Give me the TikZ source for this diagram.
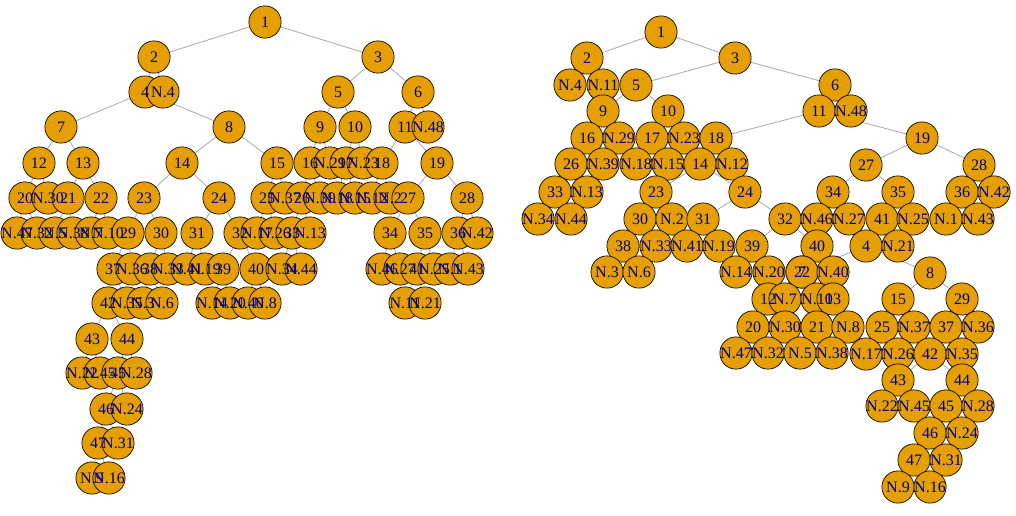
\documentclass[tikz,border=0pt]{standalone}
\usepackage{fontspec}
\setmainfont{Liberation Serif}
\usepackage{xcolor}
\definecolor{vtxorange}{HTML}{E69F00}
\definecolor{lbldarkblue}{HTML}{00008B}
\definecolor{edgegrey}{HTML}{A9A9A9}
\pgfdeclarelayer{edges}
\pgfdeclarelayer{labels}
\pgfsetlayers{edges,main,labels}

\begin{document}
\begin{tikzpicture}[x=0.75pt,y=-0.75pt,
  vtx/.style={circle,draw=black,line width=0.5pt,fill=vtxorange,minimum size=24.2pt,inner sep=0pt},
  lbl/.style={text=lbldarkblue,font=\fontsize{12}{12}\selectfont,inner sep=0pt},
  edge/.style={draw=edgegrey,line width=0.6pt}]
\useasboundingbox (0,0) rectangle (1016,515);
% left tree
\foreach \n/\x/\y/\t in {1/265/22/1, 2/154/57/2, 3/378/57/3,
  4/145/92/4, N4/163/92/N.4, 5/338/92/5, 6/418/92/6,
  7/61/127/7, 8/229/127/8, 9/320/127/9, 10/355/127/10, 11/405/127/11, N48/428/127/N.48,
  12/39/163/12, 13/83/163/13, 14/182/163/14, 15/277/163/15, 16/310/163/16, N29/330/163/N.29,
  17/346/163/17, N23/363/163/N.23, 18/382/163/18, 19/437/163/19,
  20/25/198/20, N30/48/198/N.30, 21/68/198/21, 22/101/198/22, 23/144/198/23, 24/219/198/24,
  25/267/198/25, N37/285/198/N.37, 26/302/198/26, N39/320/198/N.39, N18/337/198/N.18,
  N15/355/198/N.15, N12/372/198/N.12, N2/390/198/N.2, 27/408/198/27, 28/467/198/28,
  N47/17/233/N.47, N32/37/233/N.32, N5/55/233/N.5, N38/73/233/N.38, N7/91/233/N.7,
  N10/108/233/N.10, 29/128/233/29, 30/161/233/30, 31/197/233/31, 32/240/233/32,
  N17/257/233/N.17, N26/275/233/N.26, 33/292/233/33, N13/310/233/N.13, 34/390/233/34,
  35/425/233/35, 36/458/233/36, N42/477/233/N.42,
  37/113/269/37, N36/132/269/N.36, 38/150/269/38, N33/168/269/N.33, N41/187/269/N.41,
  N19/205/269/N.19, 39/223/269/39, 40/256/269/40, N34/282/269/N.34, N44/301/269/N.44,
  N46/382/269/N.46, N27/400/269/N.27, 41/417/269/41, N25/434/269/N.25, N1/450/269/N.1,
  N43/468/269/N.43,
  42/108/303/42, N35/127/303/N.35, N3/143/303/N.3, N6/162/303/N.6, N14/212/303/N.14,
  N20/230/303/N.20, N40/248/303/N.40, N8/265/303/N.8, N11/405/303/N.11, N21/425/303/N.21,
  43/92/339/43, 44/127/339/44,
  N22/82/373/N.22, N45/100/373/N.45, 45/118/373/45, N28/136/373/N.28,
  46/106/409/46, N24/127/409/N.24,
  47/98/443/47, N31/118/443/N.31,
  N9/92/478/N.9, N16/109/478/N.16}{
  \node[vtx] (L\n) at (\x,\y) {};
  \begin{pgfonlayer}{labels}
    \node[lbl] (L\n-t) at (\x,\y) {\t};
  \end{pgfonlayer}
}
% right tree
\foreach \n/\x/\y/\t in {1/661/32/1, 2/587/58/2, 3/735/58/3,
  N4/570/85/N.4, N11/603/85/N.11, 5/636/85/5, 6/835/85/6,
  9/603/111/9, 10/668/111/10, 11/819/111/11, N48/851/111/N.48,
  16/587/138/16, N29/619/138/N.29, 17/652/138/17, N23/684/138/N.23, 18/716/138/18, 19/922/138/19,
  26/571/164/26, N39/603/164/N.39, N18/636/164/N.18, N15/668/164/N.15, 14/700/164/14,
  N12/732/164/N.12, 27/866/165/27, 28/979/165/28,
  33/555/192/33, N13/587/192/N.13, 23/656/192/23, 24/745/192/24, 34/833/192/34,
  35/898/192/35, 36/962/192/36, N42/994/192/N.42,
  N34/538/219/N.34, N44/571/219/N.44, 30/640/219/30, N2/672/219/N.2, 31/703/219/31,
  32/785/219/32, N46/817/219/N.46, N27/849/219/N.27, 41/882/219/41, N25/913/219/N.25,
  N1/946/219/N.1, N43/978/219/N.43,
  38/623/246/38, N33/656/246/N.33, N41/687/246/N.41, N19/719/246/N.19, 39/752/246/39,
  40/817/246/40, 4/866/246/4, N21/898/246/N.21,
  N3/607/272/N.3, N6/639/272/N.6, N14/736/272/N.14, N20/769/272/N.20, 7/802/272/7,
  22/802/272/22, N40/833/272/N.40, 8/930/273/8,
  12/768/299/12, N7/785/299/N.7, N10/817/299/N.10, 13/833/299/13, 15/898/299/15, 29/962/299/29,
  20/753/327/20, N30/785/327/N.30, 21/817/327/21, N8/848/327/N.8, 25/882/327/25,
  N37/914/327/N.37, 37/946/327/37, N36/978/327/N.36,
  N47/736/353/N.47, N32/768/353/N.32, N5/800/353/N.5, N38/832/353/N.38, N17/866/354/N.17,
  N26/898/354/N.26, 42/930/354/42, N35/962/354/N.35,
  43/898/380/43, 44/962/380/44,
  N22/882/406/N.22, N45/914/406/N.45, 45/946/406/45, N28/978/406/N.28,
  46/930/433/46, N24/962/433/N.24,
  47/914/460/47, N31/946/460/N.31,
  N9/898/487/N.9, N16/930/487/N.16}{
  \node[vtx] (R\n) at (\x,\y) {};
  \begin{pgfonlayer}{labels}
    \node[lbl] (R\n-t) at (\x,\y) {\t};
  \end{pgfonlayer}
}
\begin{pgfonlayer}{edges}
  % left tree edges
  \foreach \p/\c in {1/2, 1/3, 2/4, 2/N4, 3/5, 3/6, 4/7, 4/8, 5/9, 5/10, 6/11, 6/N48,
    7/12, 7/13, 8/14, 8/15, 9/16, 9/N29, 10/17, 10/N23, 11/18, 11/19, 12/20, 12/N30,
    13/21, 13/22, 14/23, 14/24, 15/25, 15/N37, 16/26, 16/N39, 17/N18, 17/N15, 18/N12, 18/N2,
    19/27, 19/28, 20/N47, 20/N32, 21/N5, 21/N38, 22/N7, 22/N10, 23/29, 23/30, 24/31, 24/32,
    25/N17, 25/N26, 26/33, 26/N13, 27/34, 27/35, 28/36, 28/N42, 29/37, 29/N36, 30/38, 30/N33,
    31/N41, 31/N19, 32/39, 32/40, 33/N34, 33/N44, 34/N46, 34/N27, 35/41, 35/N25, 36/N1, 36/N43,
    37/42, 37/N35, 38/N3, 38/N6, 39/N14, 39/N20, 40/N40, 40/N8, 41/N11, 41/N21, 42/43, 42/44,
    43/N22, 43/N45, 44/45, 44/N28, 45/46, 45/N24, 46/47, 46/N31, 47/N9, 47/N16}
    \draw[edge] (L\p) -- (L\c);
  % right tree edges
  \foreach \p/\c in {1/2, 1/3, 2/N4, 2/N11, 3/5, 3/6, 5/9, 5/10, 6/11, 6/N48, 9/16, 9/N29,
    10/17, 10/N23, 11/18, 11/19, 16/26, 16/N39, 17/N18, 17/N15, 18/14, 18/N12, 19/27, 19/28,
    26/33, 26/N13, 33/N34, 33/N44, 14/23, 14/24, 23/30, 23/N2, 24/31, 24/32, 30/38, 30/N33,
    31/N41, 31/N19, 38/N3, 38/N6, 32/39, 32/40, 39/N14, 39/N20, 40/22, 40/N40, 22/N7, 22/N10,
    27/34, 27/35, 28/36, 28/N42, 34/N46, 34/N27, 35/41, 35/N25, 36/N1, 36/N43, 41/4, 41/N21,
    4/7, 4/8, 7/12, 7/13, 12/20, 12/N30, 13/21, 13/N8, 20/N47, 20/N32, 21/N5, 21/N38,
    8/15, 8/29, 15/25, 15/N37, 29/37, 29/N36, 25/N17, 25/N26, 37/42, 37/N35, 42/43, 42/44,
    43/N22, 43/N45, 44/45, 44/N28, 45/46, 45/N24, 46/47, 46/N31, 47/N9, 47/N16}
    \draw[edge] (R\p) -- (R\c);
\end{pgfonlayer}
\end{tikzpicture}
\end{document}
